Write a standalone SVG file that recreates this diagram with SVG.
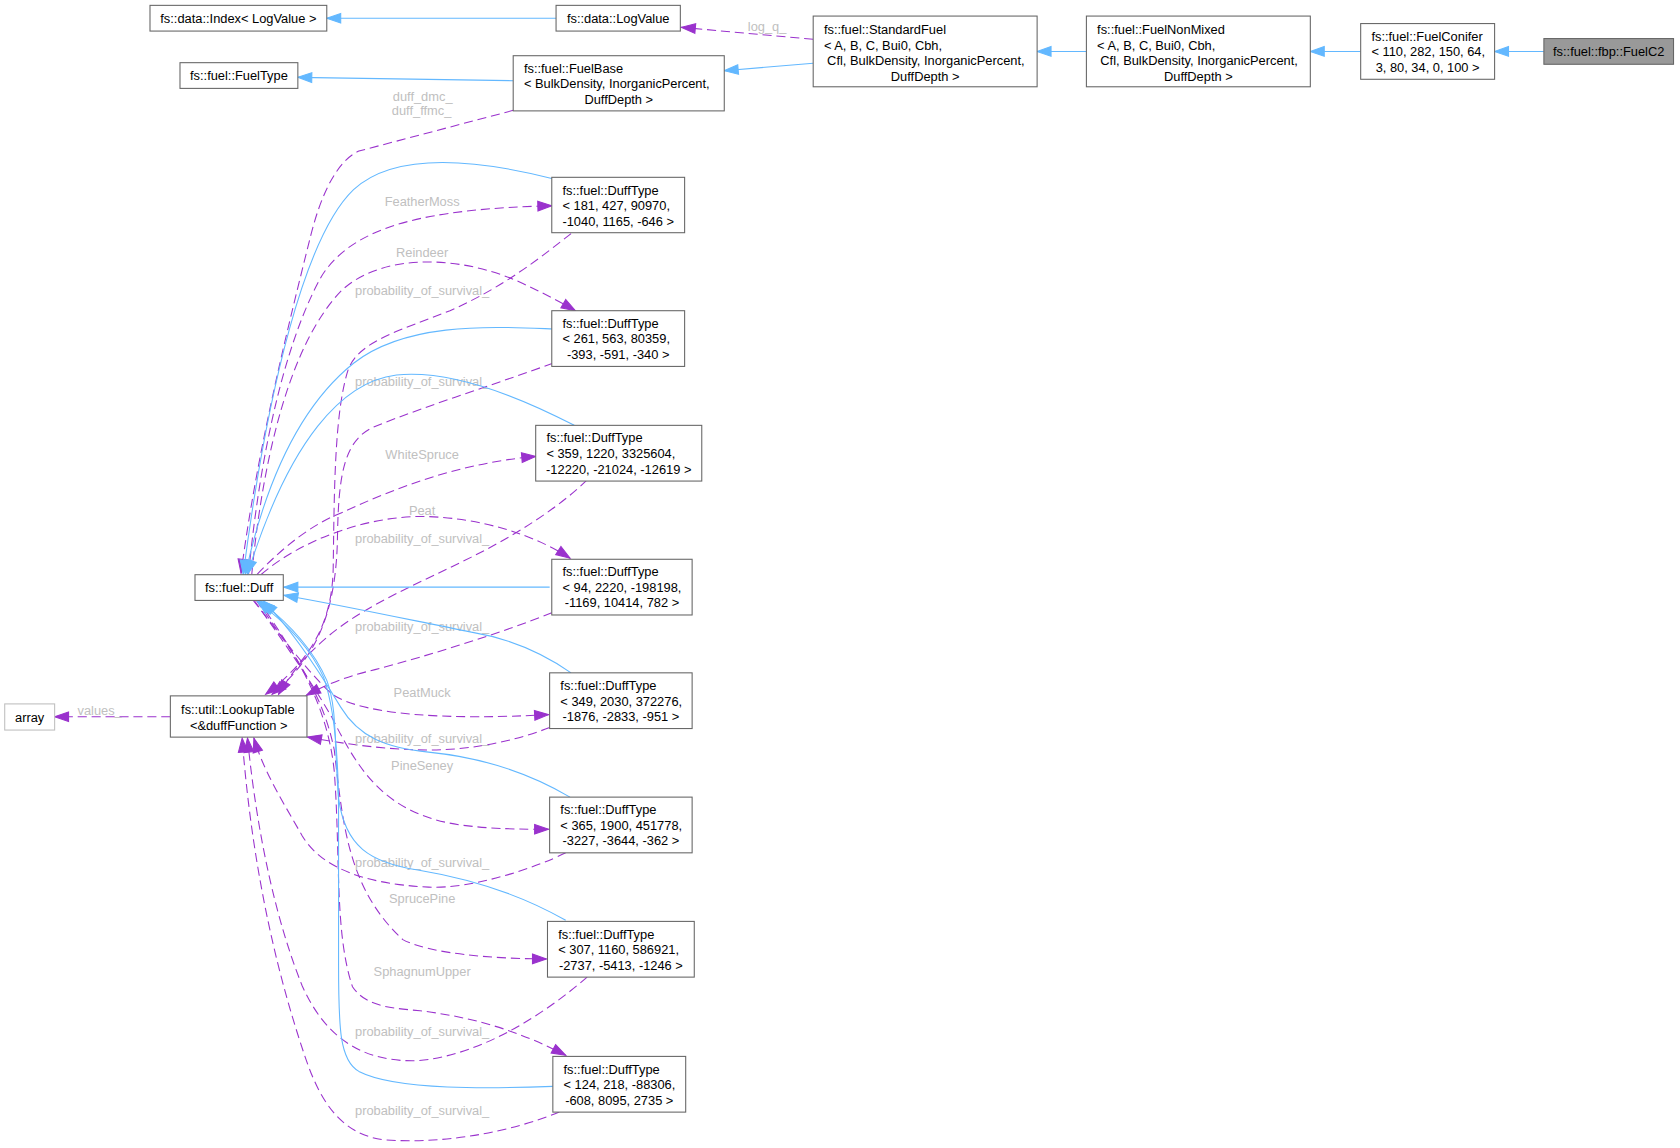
<svg xmlns="http://www.w3.org/2000/svg" width="1680" height="1148" viewBox="0 0 1680 1148">
<style>
text{font-family:"Liberation Sans",Arial,Helvetica,sans-serif;font-size:12px;fill:#000}
.n rect{fill:#fff;stroke:#666;stroke-width:1}
.c{text-anchor:middle}
.lbl{fill:#c0c0c0;text-anchor:middle}
.inh{fill:none;stroke:#63b8ff;stroke-width:1;marker-end:url(#ab)}
.use{fill:none;stroke:#9a32cd;stroke-width:1;stroke-dasharray:8.5,4.5;marker-end:url(#ap)}
</style>
<defs>
<marker id="ab" markerUnits="userSpaceOnUse" markerWidth="14" markerHeight="10" refX="13" refY="4.5" orient="auto" overflow="visible"><path d="M0,0 L13,4.5 L0,9 z" fill="#63b8ff" stroke="#63b8ff" stroke-width="1" stroke-dasharray="none"/></marker>
<marker id="ap" markerUnits="userSpaceOnUse" markerWidth="14" markerHeight="10" refX="13" refY="4.5" orient="auto" overflow="visible"><path d="M0,0 L13,4.5 L0,9 z" fill="#9a32cd" stroke="#9a32cd" stroke-width="1" stroke-dasharray="none"/></marker>
</defs>
<rect x="0" y="0" width="1680" height="1148" fill="#fff"/>
<g transform="scale(1.0714)">
<g id="connectors">
<path class="use" d="M759,36.7 L636,25.5"/>
<text class="lbl" x="716" y="28.5">log_q_</text>
<path class="use" d="M479,103 L335,141 C315,150 300,180 290,220 C270,300 240,420 225,535"/>
<text class="lbl" x="394.5" y="94">duff_dmc_</text>
<text class="lbl" x="393.5" y="107.6">duff_ffmc_</text>
<path class="use" d="M232,536 C240,450 260,330 300,258 C330,210 400,195 515,192"/>
<path class="use" d="M235,536 C245,430 270,320 320,270 C360,235 430,240 480,261 C500,270 520,280 537,290"/>
<path class="use" d="M240,536 C265,510 290,490 320,478 C370,455 430,432 500,426"/>
<path class="use" d="M244,536 C280,505 340,482 394,482 C450,483 500,500 532,521"/>
<path class="use" d="M236,560 C260,590 285,625 310,648 C340,668 420,672 512,667"/>
<path class="use" d="M237,560 C262,595 290,635 310,670 C335,720 360,760 430,770 C460,774 490,774 512,774"/>
<path class="use" d="M239,560 C265,598 300,640 312,700 C320,770 325,830 376,877 C400,890 460,895 510,895"/>
<path class="use" d="M241,560 C268,600 305,650 312,720 C318,800 312,870 329,921 C345,945 380,940 410,946 C450,952 490,965 528,985"/>
<path class="use" d="M533,218 C505,240 470,268 420,290 C375,308 335,318 325,345 C312,385 312,460 311,530 C310,590 282,622 248,648"/>
<path class="use" d="M516,339 C470,356 400,378 350,398 C322,410 316,440 315,500 C314,580 290,618 254,648"/>
<path class="use" d="M548,448 C520,475 480,500 440,520 C390,545 340,565 305,595 C285,612 272,628 260,648"/>
<path class="use" d="M515,572 C470,590 400,612 350,625 C320,632 303,640 286,649"/>
<path class="use" d="M513,679 C480,692 440,700 400,700 C360,700 320,694 287,688"/>
<path class="use" d="M528,796 C500,810 440,830 400,828 C340,825 300,810 282,780 C265,750 246,720 237,689"/>
<path class="use" d="M548,912 C510,945 450,985 390,990 C330,992 300,960 282,920 C258,860 240,780 231,689"/>
<path class="use" d="M522,1038 C480,1055 420,1068 360,1064 C320,1060 300,1030 286,990 C262,920 236,820 226,689"/>
<path class="use" d="M159,669 L51,669"/>
<text class="lbl" x="93" y="667.5">values_</text>
<text class="lbl" x="394" y="192">FeatherMoss</text>
<text class="lbl" x="394" y="240">Reindeer</text>
<text class="lbl" x="394" y="275.5">probability_of_survival_</text>
<text class="lbl" x="394" y="360">probability_of_survival_</text>
<text class="lbl" x="394" y="428">WhiteSpruce</text>
<text class="lbl" x="394" y="480.5">Peat</text>
<text class="lbl" x="394" y="506.5">probability_of_survival_</text>
<text class="lbl" x="394" y="589">probability_of_survival_</text>
<text class="lbl" x="394" y="650.5">PeatMuck</text>
<text class="lbl" x="394" y="693.5">probability_of_survival_</text>
<text class="lbl" x="394" y="718.5">PineSeney</text>
<text class="lbl" x="394" y="809">probability_of_survival_</text>
<text class="lbl" x="394" y="842.5">SprucePine</text>
<text class="lbl" x="394" y="910.5">SphagnumUpper</text>
<text class="lbl" x="394" y="967">probability_of_survival_</text>
<text class="lbl" x="394" y="1041">probability_of_survival_</text>
<path class="inh" d="M519,17 L305,17"/>
<path class="inh" d="M479,75.3 L278,72.2"/>
<path class="inh" d="M759,59 L676,66"/>
<path class="inh" d="M1014,48 L968,48"/>
<path class="inh" d="M1270,48 L1223,48"/>
<path class="inh" d="M1441,48 L1395,48"/>
<path class="inh" d="M517,167 C450,150 370,140 330,177 C285,220 250,360 227,536"/>
<path class="inh" d="M517,307 C460,305 380,300 330,339 C285,375 250,440 229,536"/>
<path class="inh" d="M536,397 C480,368 420,345 370,350 C320,356 270,410 231,536"/>
<path class="inh" d="M513,548 L265,548"/>
<path class="inh" d="M533,628 C500,605 470,595 440,590 C380,578 320,565 265,555.5"/>
<path class="inh" d="M532,744 C505,728 460,708 400,702 C360,698 335,688 318,660 C300,630 275,590 246,561"/>
<path class="inh" d="M528,859 C495,840 450,822 390,812 C345,805 322,790 316,745 C312,700 315,660 305,635 C292,605 270,582 243,561"/>
<path class="inh" d="M516,1014 C460,1016 370,1018 335,1000 C317,990 316,960 316,900 L316,760 C316,700 312,660 302,632 C290,605 268,582 240,561"/>
</g>
<g id="node-index" class="n"><rect x="140" y="5" width="165" height="24"/><text class="c" x="222.5" y="21.5">fs::data::Index&lt; LogValue &gt;</text></g>
<g id="node-logvalue" class="n"><rect x="519" y="5" width="116" height="24"/><text class="c" x="577" y="21.5">fs::data::LogValue</text></g>
<g id="node-fueltype" class="n"><rect x="168" y="58.5" width="110" height="24"/><text class="c" x="223" y="75">fs::fuel::FuelType</text></g>
<g id="node-fuelbase" class="n"><rect x="479" y="52" width="197" height="51.5"/><text x="489" y="68">fs::fuel::FuelBase</text><text x="489" y="82.5">&lt; BulkDensity, InorganicPercent,</text><text class="c" x="577.5" y="97">DuffDepth &gt;</text></g>
<g id="node-standardfuel" class="n"><rect x="759" y="15" width="209" height="66"/><text x="769" y="32">fs::fuel::StandardFuel</text><text x="769" y="46.5">&lt; A, B, C, Bui0, Cbh,</text><text x="772" y="61">Cfl, BulkDensity, InorganicPercent,</text><text class="c" x="863.5" y="75.5">DuffDepth &gt;</text></g>
<g id="node-fuelnonmixed" class="n"><rect x="1014" y="15" width="209" height="66"/><text x="1024" y="32">fs::fuel::FuelNonMixed</text><text x="1024" y="46.5">&lt; A, B, C, Bui0, Cbh,</text><text x="1027" y="61">Cfl, BulkDensity, InorganicPercent,</text><text class="c" x="1118.5" y="75.5">DuffDepth &gt;</text></g>
<g id="node-fuelconifer" class="n"><rect x="1270" y="22" width="125" height="52"/><text x="1280" y="38">fs::fuel::FuelConifer</text><text x="1280" y="52.5">&lt; 110, 282, 150, 64,</text><text class="c" x="1332.5" y="67">3, 80, 34, 0, 100 &gt;</text></g>
<g id="node-fuelc2" class="n"><rect x="1441" y="36" width="121" height="24" style="fill:#999"/><text class="c" x="1501.5" y="52.5">fs::fuel::fbp::FuelC2</text></g>
<g id="node-duff" class="n"><rect x="182" y="536.4" width="82.4" height="24"/><text class="c" x="223.2" y="553">fs::fuel::Duff</text></g>
<g id="node-lookuptable" class="n"><rect x="159" y="649.5" width="127.5" height="38.5"/><text x="169" y="666.5">fs::util::LookupTable</text><text class="c" x="222.8" y="681">&lt;&amp;duffFunction &gt;</text></g>
<g id="node-array" class="n"><rect x="4.4" y="657" width="46.6" height="24.4" style="stroke:#bfbfbf"/><text class="c" x="27.7" y="673.5">array</text></g>
<g id="node-dt1" class="n"><rect x="515" y="165.5" width="124" height="51.7"/><text x="525" y="181.6">fs::fuel::DuffType</text><text x="525" y="196.2">&lt; 181, 427, 90970,</text><text class="c" x="577" y="210.8">-1040, 1165, -646 &gt;</text></g>
<g id="node-dt2" class="n"><rect x="515" y="290" width="124" height="52"/><text x="525" y="306">fs::fuel::DuffType</text><text x="525" y="320.5">&lt; 261, 563, 80359,</text><text class="c" x="577" y="335">-393, -591, -340 &gt;</text></g>
<g id="node-dt3" class="n"><rect x="500" y="397" width="155" height="52"/><text x="510" y="413">fs::fuel::DuffType</text><text x="510" y="427.5">&lt; 359, 1220, 3325604,</text><text class="c" x="577.5" y="442">-12220, -21024, -12619 &gt;</text></g>
<g id="node-dt4" class="n"><rect x="515" y="522" width="131" height="52"/><text x="525" y="538">fs::fuel::DuffType</text><text x="525" y="552.5">&lt; 94, 2220, -198198,</text><text class="c" x="580.5" y="567">-1169, 10414, 782 &gt;</text></g>
<g id="node-dt5" class="n"><rect x="513" y="628" width="133" height="52"/><text x="523" y="644">fs::fuel::DuffType</text><text x="523" y="658.5">&lt; 349, 2030, 372276,</text><text class="c" x="579.5" y="673">-1876, -2833, -951 &gt;</text></g>
<g id="node-dt6" class="n"><rect x="513" y="744" width="133" height="52"/><text x="523" y="760">fs::fuel::DuffType</text><text x="523" y="774.5">&lt; 365, 1900, 451778,</text><text class="c" x="579.5" y="789">-3227, -3644, -362 &gt;</text></g>
<g id="node-dt7" class="n"><rect x="511" y="860" width="137" height="52"/><text x="521" y="876">fs::fuel::DuffType</text><text x="521" y="890.5">&lt; 307, 1160, 586921,</text><text class="c" x="579.5" y="905">-2737, -5413, -1246 &gt;</text></g>
<g id="node-dt8" class="n"><rect x="516" y="986" width="124" height="52"/><text x="526" y="1002">fs::fuel::DuffType</text><text x="526" y="1016.5">&lt; 124, 218, -88306,</text><text class="c" x="578" y="1031">-608, 8095, 2735 &gt;</text></g>
</g>
</svg>
